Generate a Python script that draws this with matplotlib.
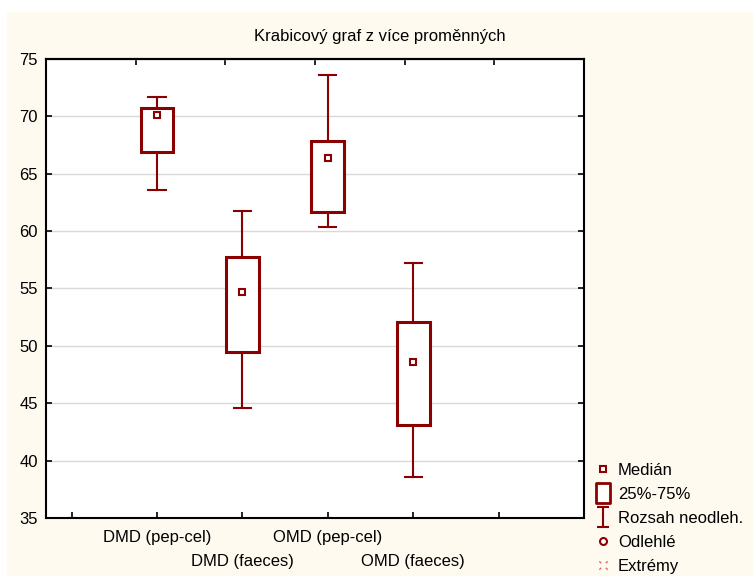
import numpy as np
import matplotlib
matplotlib.use("Agg")
import matplotlib.pyplot as plt
from matplotlib.lines import Line2D
from matplotlib.patches import Rectangle
from matplotlib.path import Path

plt.rcParams['font.family'] = ['Liberation Sans', 'DejaVu Sans']

# hodnoty
nazvy = ['DMD (pep-cel)', 'DMD (faeces)', 'OMD (pep-cel)', 'OMD (faeces)']
median = [70.15, 54.66, 66.34, 48.56]
q1 = [66.86, 49.48, 61.66, 43.09]
q3 = [70.73, 57.74, 67.88, 52.10]
dolni = [63.58, 44.60, 60.38, 38.53]
horni = [71.66, 61.75, 73.58, 57.24]
legenda = ['Medián', '25%-75%', 'Rozsah neodleh.', 'Odlehlé', 'Extrémy']

cervena = '#8b0000'
krem = '#fefaf0'

W, H = 753, 576
fig = plt.figure(figsize=(W / 100, H / 100), dpi=100, facecolor='white')
fig.patches.append(Rectangle((7 / W, 0), 1, 1 - 12 / H, transform=fig.transFigure,
                             facecolor=krem, edgecolor='none', zorder=-10))

ax = fig.add_axes([46 / W, 1 - 518 / H, (584 - 46) / W, (518 - 59) / H])
ax.set_facecolor('white')

pozice = np.arange(1, len(nazvy) + 1)
stats = []
for i in range(len(nazvy)):
    stats.append(dict(med=median[i], q1=q1[i], q3=q3[i], whislo=dolni[i],
                      whishi=horni[i], fliers=[], label=nazvy[i]))

ax.bxp(stats, positions=pozice, widths=0.385, capwidths=0.2, patch_artist=True,
       boxprops=dict(facecolor='white', edgecolor=cervena, linewidth=2.2),
       whiskerprops=dict(color=cervena, linewidth=1.5),
       capprops=dict(color=cervena, linewidth=1.5),
       medianprops=dict(linewidth=0), showfliers=False, zorder=3)
ax.plot(pozice, median, ls='none', marker='s', ms=5, mfc='white', mec=cervena,
        mew=1.5, zorder=4)

ax.set_xlim(-0.3, 6.0)
ax.set_ylim(35, 75)
ax.set_yticks(np.arange(35, 80, 5))
ax.yaxis.grid(True, color='#d9d9d9', linewidth=1)
ax.set_axisbelow(True)
ax.set_xticks(np.arange(0, 6))
ax.set_xticklabels([])
ax.tick_params(axis='both', direction='in', length=4, width=1.2, labelsize=12,
               right=True, pad=6)
ax.tick_params(axis='x', pad=4)
for s in ax.spines.values():
    s.set_linewidth(1.5)

horni_osa = ax.secondary_xaxis('top')
horni_osa.set_xticks([0.75, 1.8, 2.85, 3.9, 4.95])
horni_osa.set_xticklabels([])
horni_osa.tick_params(direction='in', length=4, width=1.2)
horni_osa.spines['top'].set_linewidth(1.5)

for i, n in enumerate(nazvy):
    y = -0.042 if i % 2 == 0 else -0.094
    ax.text(pozice[i], y, n, transform=ax.get_xaxis_transform(), ha='center',
            va='center', fontsize=12)

fig.text(380 / W, 1 - 37 / H, 'Krabicový graf z více proměnných', ha='center',
         va='center', fontsize=12)

# symboly legendy
box_path = Path([(-0.7, -1), (0.7, -1), (0.7, 1), (-0.7, 1), (-0.7, -1)],
                [Path.MOVETO, Path.LINETO, Path.LINETO, Path.LINETO, Path.CLOSEPOLY])
whisk_path = Path([(-0.6, 1), (0.6, 1), (0, 1), (0, -1), (-0.6, -1), (0.6, -1)],
                  [Path.MOVETO, Path.LINETO, Path.MOVETO, Path.LINETO, Path.MOVETO, Path.LINETO])
ext_path = Path([(-1, 1), (-0.55, 0.55), (1, 1), (0.55, 0.55),
                 (-1, -1), (-0.55, -0.55), (1, -1), (0.55, -0.55)],
                [Path.MOVETO, Path.LINETO] * 4)
handles = [
    Line2D([], [], ls='none', marker='s', ms=5, mfc='white', mec=cervena, mew=1.5),
    Line2D([], [], ls='none', marker=box_path, ms=15, mfc='white', mec=cervena, mew=2.0),
    Line2D([], [], ls='none', marker=whisk_path, ms=15, mfc='none', mec=cervena, mew=1.5),
    Line2D([], [], ls='none', marker='o', ms=5, mfc='white', mec=cervena, mew=1.5),
    Line2D([], [], ls='none', marker=ext_path, ms=6, mfc='none', mec='#d46a6a', mew=1.0),
]
fig.legend(handles, legenda, loc='upper left', bbox_to_anchor=(594.7 / W, 1 - 463 / H),
           frameon=False, fontsize=12, handlelength=1.0, handletextpad=0.4,
           labelspacing=0.54, borderpad=0, borderaxespad=0)

fig.savefig('out.png', dpi=100, facecolor=fig.get_facecolor())
